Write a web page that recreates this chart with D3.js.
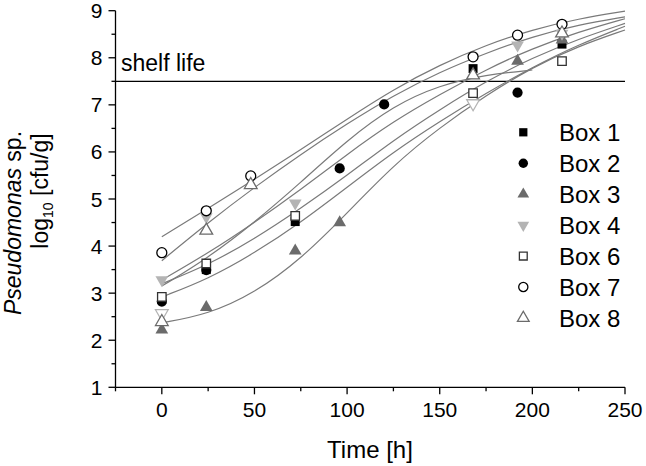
<!DOCTYPE html>
<html><head><meta charset="utf-8">
<script src="https://cdn.jsdelivr.net/npm/d3@7"></script>
<style>body{margin:0;background:#fff}svg{display:block;font-family:"Liberation Sans",Arial,sans-serif}</style>
</head><body><svg id="c" width="646" height="466"></svg>
<script>
// ---- data ----
const boxes = ["Box 1","Box 2","Box 3","Box 4","Box 6","Box 7","Box 8"];
const box1 = [[0,2.87],[24,3.50],[72,4.52],[168,7.77],[216,8.29]];
const box2 = [[0,2.82],[24,3.49],[96,5.65],[120,7.01],[192,7.26]];
const box3 = [[0,2.22],[24,2.70],[72,3.90],[96,4.50],[192,7.93],[216,8.38]];
const box4 = [[0,3.28],[24,4.62],[72,4.91],[192,8.27],[216,8.52]];
const box5 = [[0,2.57],[168,7.03]];
const box6 = [[0,2.92],[24,3.63],[72,4.64],[168,7.25],[216,7.93]];
const box7 = [[0,3.86],[24,4.75],[48,5.49],[168,8.02],[192,8.48],[216,8.71]];
const box8 = [[0,2.39],[24,4.33],[48,5.30],[168,7.63],[216,8.52]];
// fitted growth curves, at curveTimes (null = not drawn)
const curveTimes = [0,25,50,75,100,125,150,175,200,225,250];
const fit1 = [3.20,3.60,4.15,4.80,5.50,6.25,6.90,7.50,8.00,8.40,8.73];
const fit2 = [3.15,3.75,4.50,5.35,6.25,6.98,7.42,7.64,7.74,null,null];
const fit3 = [2.37,2.55,3.00,3.72,4.70,5.72,6.52,7.20,7.80,8.25,8.59];
const fit4 = [3.28,3.85,4.50,5.20,5.95,6.65,7.22,7.75,8.20,8.55,8.83];
const fit6 = [2.92,3.30,3.85,4.50,5.25,6.00,6.65,7.25,7.80,8.28,8.67];
const fit7 = [4.20,4.80,5.42,6.05,6.70,7.33,7.85,8.27,8.60,8.83,8.99];
const fit8 = [3.69,4.50,5.25,5.95,6.60,7.20,7.70,8.10,8.45,8.70,8.87];
const xTicks = [0,50,100,150,200,250];
const yTicks = [1,2,3,4,5,6,7,8,9];
const shelfLife = 7.5;

// ---- drawing ----
const svg = d3.select("#c");
const x = d3.scaleLinear().domain([-25,250]).range([115.5,625]);
const y = d3.scaleLinear().domain([1,9]).range([387.3,10.7]);

const series = [
  {name:"Box 1", pts:box1, fit:fit1, sym:d3.symbolSquare, size:80, fill:"#000", stroke:"none"},
  {name:"Box 2", pts:box2, fit:fit2, sym:d3.symbolCircle, size:82, fill:"#000", stroke:"none"},
  {name:"Box 3", pts:box3, fit:fit3, sym:d3.symbolTriangle, size:70, fill:"#6b6b6b", stroke:"none"},
  {name:"Box 4", pts:box4, fit:fit4, sym:d3.symbolTriangle, size:70, fill:"#b4b4b4", stroke:"none", flip:true},
  {name:"Box 5", pts:box5, fit:null, sym:d3.symbolTriangle, size:70, fill:"#fff", stroke:"#b4b4b4", flip:true, hidden:true},
  {name:"Box 6", pts:box6, fit:fit6, sym:d3.symbolSquare, size:72, fill:"#fff", stroke:"#333"},
  {name:"Box 7", pts:box7, fit:fit7, sym:d3.symbolCircle, size:78, fill:"#fff", stroke:"#000"},
  {name:"Box 8", pts:box8, fit:fit8, sym:d3.symbolTriangle, size:70, fill:"#fff", stroke:"#6b6b6b"}
];

// shelf life line
svg.append("line").attr("x1",x(-25)).attr("x2",x(250)).attr("y1",y(shelfLife)).attr("y2",y(shelfLife))
  .attr("stroke","#000").attr("stroke-width",1.3);
svg.append("text").attr("x",121).attr("y",y(shelfLife)-10).attr("font-size",23).text("shelf life");

// curves
const line = d3.line().defined(d=>d!==null).x((d,i)=>x(curveTimes[i])).y(d=>y(d)).curve(d3.curveBasis);
series.filter(s=>s.fit).forEach(s=>{
  svg.append("path").attr("d",line(s.fit)).attr("fill","none").attr("stroke","#7a7a7a").attr("stroke-width",1.2);
});

// points
function drawSym(g, s, cx, cy){
  g.append("path").attr("d",d3.symbol().type(s.sym).size(s.size)())
    .attr("transform",`translate(${cx},${cy})`+(s.flip?" rotate(180)":""))
    .attr("fill",s.fill).attr("stroke",s.stroke).attr("stroke-width",1.3);
}
const pg = svg.append("g");
series.forEach(s=>s.pts.forEach(p=>drawSym(pg,s,x(p[0]),y(p[1]))));

// axes
const ax = svg.append("g").attr("stroke","#000").attr("stroke-width",1.3);
ax.append("line").attr("x1",x(-25)).attr("x2",x(-25)).attr("y1",y(1)).attr("y2",y(9));
ax.append("line").attr("x1",x(-25)).attr("x2",x(250)).attr("y1",y(1)).attr("y2",y(1));
d3.range(1,9.01,0.5).forEach(v=>{
  const major = Number.isInteger(v);
  ax.append("line").attr("x1",x(-25)).attr("x2",x(-25)-(major?7:4)).attr("y1",y(v)).attr("y2",y(v));
});
d3.range(-25,250.01,25).forEach(v=>{
  const major = v%50===0;
  ax.append("line").attr("x1",x(v)).attr("x2",x(v)).attr("y1",y(1)).attr("y2",y(1)+(major?7:4));
});
svg.append("g").selectAll("text").data(yTicks).join("text")
  .attr("x",x(-25)-13).attr("y",d=>y(d)+7.5).attr("text-anchor","end").attr("font-size",21).text(d=>d);
svg.append("g").selectAll("text").data(xTicks).join("text")
  .attr("x",d=>x(d)).attr("y",y(1)+30).attr("text-anchor","middle").attr("font-size",21).text(d=>d);

// axis titles
svg.append("text").attr("x",370).attr("y",458).attr("text-anchor","middle").attr("font-size",24).text("Time [h]");
const t1 = svg.append("text").attr("transform","translate(21,223) rotate(-90)").attr("text-anchor","middle").attr("font-size",23);
t1.append("tspan").attr("font-style","italic").text("Pseudomonas");
t1.append("tspan").text(" sp.");
const t2 = svg.append("text").attr("transform","translate(48,191) rotate(-90)").attr("text-anchor","middle").attr("font-size",23);
t2.append("tspan").text("log");
t2.append("tspan").attr("font-size",14).attr("dy",5).text("10");
t2.append("tspan").attr("dy",-5).text(" [cfu/g]");

// legend
const lg = svg.append("g");
series.filter(s=>!s.hidden).forEach((s,i)=>{
  const cy = 132.3 + i*30.95;
  drawSym(lg, Object.assign({},s,{size:s.size*0.85}), 523.3, cy);
  lg.append("text").attr("x",559).attr("y",cy+8.5).attr("font-size",24).text(s.name);
});
</script></body></html>
